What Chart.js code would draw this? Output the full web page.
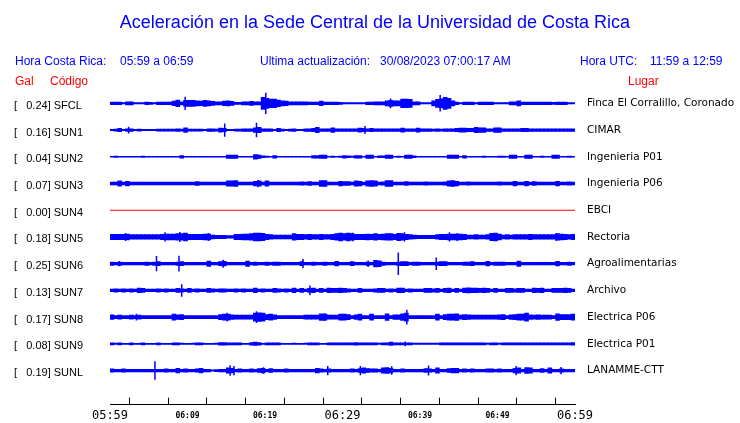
<!DOCTYPE html>
<html>
<head>
<meta charset="utf-8">
<script src="https://cdn.jsdelivr.net/npm/chart.js@4"></script>
<style>
  body { margin: 0; background: #fff; }
  #wrap { position: relative; width: 740px; height: 423px; font-family: "Liberation Sans", Arial, sans-serif; }
  #wrap span { position: absolute; white-space: pre; font-size: 12px; line-height: 14px; }
  .b { color: #0000ff; }
  .r { color: #ff0000; }
  #wrap #titulo { left: 5px; width: 740px; text-align: center; top: 10px; font-size: 18px; line-height: 24px; }
  canvas { position: absolute; left: 0; top: 0; }
</style>
</head>
<body>
<div id="wrap">
  <canvas id="grafico" width="740" height="423"></canvas>
  <span id="titulo" class="b">Aceleración en la Sede Central de la Universidad de Costa Rica</span>
  <span class="b" style="left:15px;top:54px">Hora Costa Rica:</span>
  <span class="b" style="left:120px;top:54px">05:59 a 06:59</span>
  <span class="b" style="left:260px;top:54px">Ultima actualización:</span>
  <span class="b" style="left:380px;top:54px">30/08/2023 07:00:17 AM</span>
  <span class="b" style="left:580px;top:54px">Hora UTC:</span>
  <span class="b" style="left:650px;top:54px">11:59 a 12:59</span>
  <span class="r" style="left:15px;top:74px">Gal</span>
  <span class="r" style="left:50px;top:74px">Código</span>
  <span class="r" style="left:628px;top:74px">Lugar</span>
</div>
<script>
// estaciones
const codigos = ['SFCL', 'SUN1', 'SUN2', 'SUN3', 'SUN4', 'SUN5', 'SUN6', 'SUN7', 'SUN8', 'SUN9', 'SUNL'];
const gal = [0.24, 0.16, 0.04, 0.07, 0.00, 0.18, 0.25, 0.13, 0.17, 0.08, 0.19];
const lugares = ['Finca El Corralillo, Coronado', 'CIMAR', 'Ingenieria P01', 'Ingenieria P06', 'EBCI',
  'Rectoria', 'Agroalimentarias', 'Archivo', 'Electrica P06', 'Electrica P01', 'LANAMME-CTT'];
const horas = ['05:59', '06:09', '06:19', '06:29', '06:39', '06:49', '06:59'];

// envolvente (semi-amplitud en cuentas) por intervalo de 30 s, 05:59 -> 06:59
const sfcl = [
  4,4,4,2,5,5,2,2,2,4, 3,2,4,4,4,4,7,10,5,9,
  9,9,8,7,9,8,6,5,5,7, 8,6,3,3,5,5,6,5,5,18,
  15,13,13,10,8,7,5,5,5,5, 5,4,4,4,7,4,4,4,4,3,
  2,2,2,2,2,2,4,4,5,5, 5,8,9,8,8,13,13,12,5,5,
  2,2,2,8,12,14,18,15,8,4, 2,4,4,4,2,4,4,4,4,2,
  2,2,2,5,5,8,4,4,4,4, 4,4,4,4,3,4,4,4,2,2];
const sun1 = [
  2,3,5,2,4,4,2,3,2,2, 2,2,3,3,3,3,3,4,3,7,
  3,3,3,3,2,4,4,3,6,5, 2,2,3,3,4,4,4,7,8,4,
  4,4,2,5,3,2,3,4,2,2, 4,4,5,8,4,4,4,7,4,4,
  4,4,4,4,6,5,4,5,4,4, 4,4,4,4,4,6,4,4,4,6,
  4,4,4,3,4,3,4,4,4,5, 6,6,5,5,8,7,7,4,4,7,
  7,4,4,4,4,4,5,5,4,4, 4,4,4,4,4,4,4,4,4,4];
const sun2 = [
  1.5,2,1.5,1.5,1.5,1.5,1.5,1.5,2,1.5, 1.5,1.5,1.5,1.5,1.5,1.5,1.5,1.5,4,1.5,
  1.5,1.5,1.5,1.5,1.5,1.5,1.5,1.5,1.5,1.5, 5,5,5,1.5,1.5,1.5,1.5,7,5,3,
  2,1.5,4,1.5,1.5,1.5,1.5,1.5,1.5,1.5, 1.5,1.5,4,4,5,5,1.5,2,1.5,2,
  4,3,2,4,4,1.5,5,5,1.5,3, 3,5,5,1.5,2,1.5,5,5,3,1.5,
  1.5,1.5,1.5,1.5,1.5,1.5,1.5,5,5,5, 1.5,4,1.5,1.5,1.5,1.5,2,1.5,1.5,1.5,
  2,2,1.5,5,5,1.5,1.5,5,5,1.5, 1.5,2,1.5,1.5,5,5,1.5,1.5,2,1.5];
const sun3 = [
  4,4,8,4,7,4,4,4,4,4, 4,4,4,4,4,4,4,4,4,4,
  4,4,6,4,4,4,4,4,4,4, 8,8,9,4,4,4,4,7,8,4,
  8,4,4,4,4,4,4,4,4,5, 4,6,4,4,9,9,4,4,4,7,
  6,6,4,8,7,4,8,9,8,4, 5,9,9,4,4,4,6,4,4,4,
  4,5,4,4,4,4,5,8,9,7, 4,4,5,4,4,4,4,4,4,4,
  5,4,4,4,7,4,4,7,4,6, 4,4,4,4,4,7,4,4,5,4];
const sun4 = [0, 0]; // sin señal: inicio y fin
const sun5 = [
  8,8,8,8,9,7,7,7,7,7, 7,7,7,8,9,9,9,10,10,12,
  8,8,8,8,9,9,6,5,5,5, 4,4,8,8,9,9,10,12,12,11,
  8,7,6,6,6,6,6,10,8,8, 7,8,7,7,8,7,7,8,10,12,
  10,12,10,8,8,8,9,8,10,8, 9,10,10,8,11,10,8,7,6,5,
  5,5,5,5,7,8,8,9,9,9, 9,8,6,6,7,6,6,7,11,12,
  9,6,7,6,7,7,7,7,8,7, 7,7,7,7,7,10,9,8,7,8];
const sun6 = [
  5,4,5,4,4,4,4,4,4,5, 4,5,6,4,4,4,4,5,6,4,
  4,4,4,4,4,8,4,4,6,7, 4,4,4,4,4,8,4,5,4,4,
  5,4,5,5,4,4,4,4,4,6, 4,4,5,4,4,5,4,4,7,4,
  4,4,6,4,4,4,5,4,10,9, 5,4,4,4,5,6,6,4,5,5,
  4,4,4,4,5,6,6,4,4,4, 4,5,5,6,4,4,4,7,4,5,
  5,5,4,4,4,8,4,4,4,4, 4,4,4,4,4,7,4,4,5,4];
const sun7 = [
  4,5,4,5,4,5,4,7,6,4, 4,4,5,4,5,4,4,6,5,4,
  6,4,5,4,4,6,5,4,5,5, 4,4,5,4,5,4,4,7,4,5,
  4,4,6,5,4,5,4,7,4,6, 4,6,7,4,6,4,7,6,6,7,
  6,5,4,4,6,4,4,4,5,6, 6,4,5,4,7,7,4,5,4,4,
  4,6,6,5,6,4,6,7,4,6, 4,7,8,7,7,6,7,6,4,6,
  4,4,6,6,5,6,6,4,4,7, 6,7,4,4,6,6,6,7,6,4];
const sun8 = [
  7,5,6,5,5,6,5,6,5,5, 5,5,5,5,5,5,9,7,8,5,
  5,5,5,5,5,5,5,5,8,9, 9,7,6,6,6,6,6,12,13,12,
  8,9,7,5,5,5,5,5,5,5, 6,6,6,6,10,9,6,6,6,9,
  9,8,5,7,9,5,5,9,5,5, 5,10,5,7,7,10,12,5,5,5,
  5,5,5,5,9,5,8,9,9,10, 6,8,7,6,6,6,6,6,6,6,
  7,8,5,7,8,9,9,12,7,6, 7,6,6,6,5,10,8,8,8,9];
const sun9 = [
  3,2,3,1.5,1.5,3,1.5,1.5,3,1.5, 1.5,1.5,3,1.5,1.5,1.5,3,3,2,1.5,
  1.5,2,3,3,1.5,1.5,1.5,2,4,4, 3,3,3,3,1.5,1.5,4,5,4,1.5,
  3,3,3,3,1.5,1.5,1.5,2,1.5,1.5, 2,3,3,3,1.5,1.5,3,3,3,3,
  3,3,3,4,3,3,3,3,3,2, 3,3,5,3,3,3,3,3,2,2,
  2,2,2,2,2,3,3,3,3,3, 3,3,3,3,3,3,3,2,3,3,
  2,3,3,3,3,3,3,3,3,3, 3,3,3,3,3,3,3,3,3,4];
const sunl = [
  5,4,4,5,4,4,4,4,4,4, 4,4,4,4,5,4,4,7,4,5,
  4,4,5,7,4,4,2,3,4,4, 8,7,4,5,4,4,5,4,6,7,
  4,6,4,4,4,5,4,4,4,4, 4,4,4,7,5,4,5,4,4,4,
  4,4,5,4,6,8,6,5,5,4, 8,9,7,4,4,5,4,4,4,4,
  4,6,5,4,8,4,4,6,7,7, 4,5,4,5,4,4,4,5,5,4,
  5,4,4,4,7,8,4,9,8,4, 4,6,4,8,4,4,5,4,4,4];

// picos aislados: [minuto, semi-amplitud en cuentas]
const picosSfcl = [[9.7, 20], [20.1, 32], [36.2, 15], [42.6, 25]];
const picosSun1 = [[2.4, 10], [14.8, 20], [18.9, 22], [32.9, 12]];
const picosSun2 = [[19.1, 7]];
const picosSun3 = [[19.1, 11]];
const picosSun4 = [];
const picosSun5 = [[2.0, 12], [7.1, 14], [9.0, 15], [12.7, 12], [31.3, 13], [38.0, 14], [43.8, 14], [44.8, 12], [57.6, 12]];
const picosSun6 = [[1.2, 8], [6.0, 23], [8.9, 24], [14.6, 12], [24.9, 14], [33.3, 10], [37.2, 34], [42.1, 19]];
const picosSun7 = [[9.25, 19], [25.8, 15]];
const picosSun8 = [[3.4, 10], [15.1, 13], [18.9, 18], [27.7, 12], [38.3, 22]];
const picosSun9 = [[38.1, 7]];
const picosSunl = [[5.8, 28], [15.5, 16], [16.0, 14], [19.8, 10], [28.1, 14], [32.3, 14], [36.35, 13], [41.1, 15], [52.4, 14], [58.2, 11]];

const trazas = [sfcl, sun1, sun2, sun3, sun4, sun5, sun6, sun7, sun8, sun9, sunl];
const picos = [picosSfcl, picosSun1, picosSun2, picosSun3, picosSun4, picosSun5,
  picosSun6, picosSun7, picosSun8, picosSun9, picosSunl];

const PASO = 0.5;   // minutos por intervalo
const SEP = 81;     // separación entre trazas (cuentas)
const AZUL = '#0000ff';

const datasets = [];
trazas.forEach((amp, i) => {
  const c = -SEP * i;
  if (amp === sun4) {
    datasets.push({
      type: 'line',
      data: [{ x: 0, y: c + amp[0] }, { x: 60, y: c + amp[1] }],
      borderColor: '#ff0000', borderWidth: 1, pointRadius: 0
    });
    return;
  }
  datasets.push({
    type: 'bar',
    data: amp.map((a, k) => ({ x: (k + 0.5) * PASO, y: [c - a, c + a] })),
    backgroundColor: AZUL, borderWidth: 0,
    barPercentage: 1, categoryPercentage: 1, grouped: false
  });
  datasets.push({
    type: 'line',
    data: picos[i].flatMap(([t, a]) => [{ x: t, y: c - a }, { x: t, y: c + a }, { x: t, y: null }]),
    borderColor: AZUL, borderWidth: 1.5, pointRadius: 0, spanGaps: false
  });
});

const ticksTrazas = scale => {
  scale.ticks = codigos.map((_, i) => ({ value: -SEP * i }));
};
const idx = v => Math.round(-v / SEP);

new Chart(document.getElementById('grafico'), {
  type: 'bar',
  data: { datasets: datasets },
  options: {
    responsive: false,
    animation: false,
    events: [],
    layout: { padding: { top: 90, left: 14, right: 0, bottom: 0 } },
    plugins: { legend: { display: false }, tooltip: { enabled: false } },
    scales: {
      x: {
        type: 'linear', min: 0, max: 60, offset: false,
        afterFit: s => { s.height = 15; },
        grid: { drawOnChartArea: false, tickLength: -7, color: '#000', lineWidth: 1 },
        border: { color: '#000', width: 1 },
        ticks: {
          stepSize: 5, autoSkip: false, maxRotation: 0, padding: 11, color: '#000',
          callback: v => (v % 10 === 0 ? horas[v / 10] : ''),
          font: ctx => (ctx.tick && ctx.tick.value % 30 === 0)
            ? { family: 'DejaVu Sans Mono', size: 12, lineHeight: 1.2 }
            : { family: 'DejaVu Sans Mono', size: 8, weight: 'bold', lineHeight: 1.8 }
        }
      },
      y: {
        type: 'linear', position: 'left', min: -913.5, max: 40.5, stacked: false,
        afterBuildTicks: ticksTrazas,
        afterFit: s => { s.width = 96; },
        grid: { display: false }, border: { display: false },
        ticks: {
          crossAlign: 'far', labelOffset: 2.5, color: '#000',
          font: { family: 'Liberation Sans', size: 11 },
          callback: v => '[   ' + gal[idx(v)].toFixed(2) + '] ' + codigos[idx(v)]
        }
      },
      y2: {
        type: 'linear', position: 'right', min: -913.5, max: 40.5,
        afterBuildTicks: ticksTrazas,
        afterFit: s => { s.width = 165; },
        grid: { display: false, drawTicks: false }, border: { display: false },
        ticks: {
          crossAlign: 'near', padding: 12, color: '#000',
          font: { family: 'DejaVu Sans', size: 10.5 },
          callback: v => lugares[idx(v)]
        }
      }
    }
  }
});
</script>
</body>
</html>
